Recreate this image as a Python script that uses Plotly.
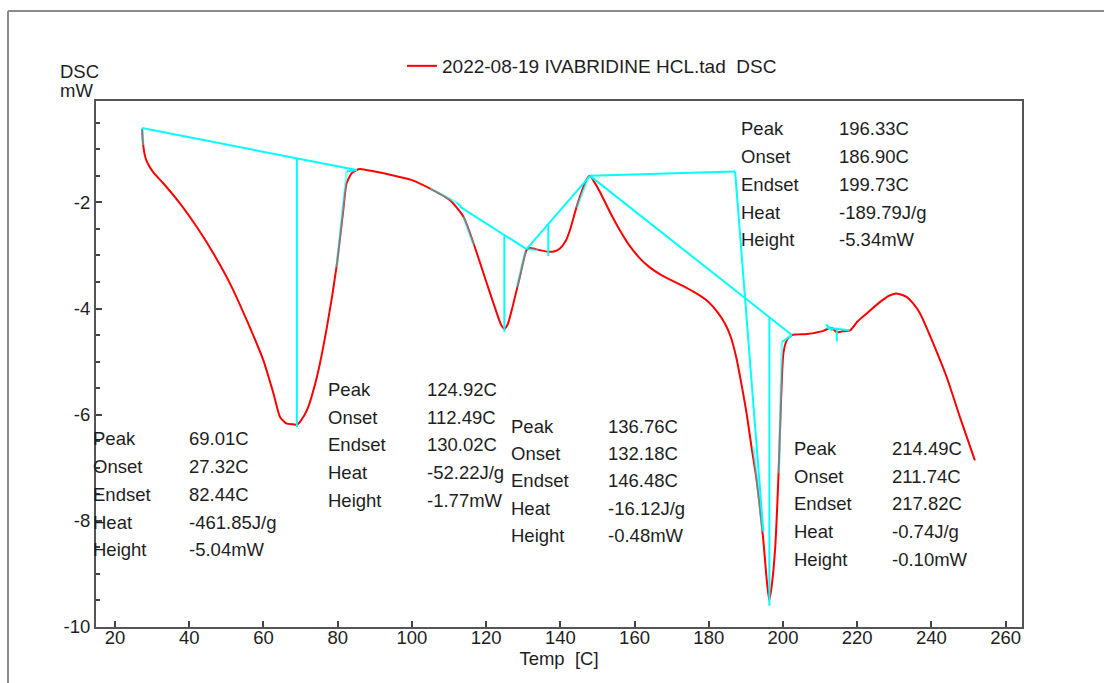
import plotly.graph_objects as go

# ---------------- data ----------------
TEMP = [27.3, 27.5, 28.0, 28.5, 29.5, 30.5, 33.0, 37.5, 42.0, 46.5, 51.0, 55.5, 60.0, 62.7, 64.5,
        66.3, 68.0, 69.0, 70.0, 71.7, 74.4, 77.1, 79.7, 81.5, 82.4, 83.8, 85.1, 86.0, 90.0, 94.1,
        100.0, 104.9, 110.3, 113.9, 116.6, 120.2, 122.9, 124.0, 124.9, 125.8, 126.9, 129.1, 130.9,
        131.8, 132.7, 134.5, 136.7, 138.5, 139.9, 141.5, 142.6, 144.4, 146.2, 147.2, 148.0, 149.0,
        150.5, 153.5, 156.0, 158.5, 161.5, 164.0, 167.0, 170.0, 174.0, 177.0, 180.0, 182.5, 184.5,
        186.0, 187.5, 189.0, 190.2, 191.5, 192.9, 194.7, 195.6, 196.3, 197.0, 197.9, 198.8, 199.5,
        200.1, 201.0, 202.4, 206.4, 210.9, 212.7, 213.5, 214.5, 216.0, 218.1, 220.0, 222.6, 226.1,
        228.5, 230.2, 231.5, 233.3, 235.0, 236.9, 240.5, 244.1, 247.7, 251.7]
DSC = [-0.62, -0.85, -1.10, -1.22, -1.35, -1.45, -1.64, -2.02, -2.46, -2.96, -3.53, -4.22, -4.98,
       -5.60, -6.05, -6.17, -6.18, -6.19, -6.12, -5.92, -5.29, -4.35, -3.21, -2.15, -1.64, -1.45,
       -1.39, -1.37, -1.42, -1.48, -1.58, -1.74, -1.96, -2.27, -2.77, -3.53, -4.09, -4.30, -4.38,
       -4.30, -4.03, -3.40, -2.90, -2.86, -2.87, -2.90, -2.93, -2.92, -2.87, -2.72, -2.52, -2.08,
       -1.71, -1.55, -1.50, -1.60, -1.78, -2.20, -2.52, -2.80, -3.06, -3.22, -3.36, -3.47, -3.61,
       -3.73, -3.88, -4.08, -4.30, -4.55, -4.95, -5.50, -5.98, -6.60, -7.24, -8.37, -9.10, -9.50,
       -9.20, -8.50, -7.11, -5.67, -4.85, -4.60, -4.50, -4.48, -4.42, -4.36, -4.38, -4.45, -4.43,
       -4.41, -4.25, -4.09, -3.88, -3.76, -3.72, -3.73, -3.78, -3.90, -4.09, -4.66, -5.29, -6.05,
       -6.86]

# integration baselines / peak markers (x0, y0, x1, y1)
BASELINES = [
    (27.28, -0.60, 85.1, -1.39), (69.01, -1.17, 69.01, -6.23), (82.44, -1.42, 85.1, -1.39),
    (112.9, -2.08, 130.9, -2.88), (124.92, -2.61, 124.92, -4.44), (112.0, -2.00, 113.3, -2.08),
    (130.9, -2.88, 148.0, -1.50), (136.76, -2.41, 136.76, -3.01),
    (148.0, -1.50, 187.1, -1.42), (187.1, -1.42, 194.7, -8.20),
    (148.0, -1.50, 202.4, -4.50), (196.33, -4.17, 196.33, -9.60), (199.7, -4.63, 202.4, -4.50),
    (211.6, -4.30, 213.3, -4.42), (211.74, -4.36, 217.82, -4.41), (214.49, -4.36, 214.49, -4.62),
]
# tangent segments lying on the curve (x0, y0, x1, y1)
TANGENTS = [
    (27.3, -0.60, 27.6, -0.92), (82.44, -1.42, 79.7, -3.22),
    (104.9, -1.74, 112.0, -2.00), (113.9, -2.27, 116.6, -2.80), (128.3, -3.60, 130.6, -2.92),
    (131.0, -2.88, 134.0, -2.90), (144.4, -2.10, 147.5, -1.55),
    (192.0, -6.60, 194.5, -8.18), (199.7, -4.63, 198.9, -7.10),
]

LABELS = ["Peak", "Onset", "Endset", "Heat", "Height"]
PEAK1_VALUES = ["69.01C", "27.32C", "82.44C", "-461.85J/g", "-5.04mW"]
PEAK2_VALUES = ["124.92C", "112.49C", "130.02C", "-52.22J/g", "-1.77mW"]
PEAK3_VALUES = ["136.76C", "132.18C", "146.48C", "-16.12J/g", "-0.48mW"]
PEAK4_VALUES = ["196.33C", "186.90C", "199.73C", "-189.79J/g", "-5.34mW"]
PEAK5_VALUES = ["214.49C", "211.74C", "217.82C", "-0.74J/g", "-0.10mW"]

X_TICKS = [20, 40, 60, 80, 100, 120, 140, 160, 180, 200, 220, 240, 260]
Y_TICKS = [-10, -8, -6, -4, -2]
Y_TICK_TEXT = ["-10", "-8", "-6", "-4", "-2"]
SERIES_NAME = "2022-08-19 IVABRIDINE HCL.tad  DSC"

# ---------------- layout constants ----------------
W, H = 1104, 683
L, R, T, B = 96, 82, 101, 56
PW, PH = W - L - R, H - T - B
FONT = "Liberation Sans, Arial, sans-serif"
TXT = "#1e1e1e"
FS = 18.5


def px(x):
    return (x - L) / PW


def py(y):
    return (H - B - y) / PH


def seg_xy(segs):
    xs, ys = [], []
    for x0, y0, x1, y1 in segs:
        xs += [x0, x1, None]
        ys += [y0, y1, None]
    return xs, ys


fig = go.Figure()
fig.add_trace(go.Scatter(x=TEMP, y=DSC, mode="lines", name=SERIES_NAME,
                         line=dict(color="#ff0000", width=2, shape="spline", smoothing=0.6)))
bx, by = seg_xy(BASELINES)
fig.add_trace(go.Scatter(x=bx, y=by, mode="lines", showlegend=False,
                         line=dict(color="#00ffff", width=2)))
tx, ty = seg_xy(TANGENTS)
fig.add_trace(go.Scatter(x=tx, y=ty, mode="lines", showlegend=False, opacity=0.5,
                         line=dict(color="#00ffff", width=2.5)))

# result blocks: (values, label_x_px, value_x_px, first_row_y_px, row_step_px)
BLOCKS = [
    (PEAK1_VALUES, 91, 187, 438.3, 27.9),
    (PEAK2_VALUES, 326, 425, 389.3, 27.7),
    (PEAK3_VALUES, 509, 605.5, 426.0, 27.4),
    (PEAK4_VALUES, 738.5, 837, 128.3, 27.9),
    (PEAK5_VALUES, 792, 889.5, 448.3, 27.75),
]
ann = []
for vals, lx, vx, y0, dy in BLOCKS:
    for i, (lab, val) in enumerate(zip(LABELS, vals)):
        yy = y0 + i * dy
        for xx, t in ((lx, lab), (vx, val)):
            ann.append(dict(x=px(xx), y=py(yy), xref="paper", yref="paper", text=t,
                            showarrow=False, xanchor="left", yanchor="middle",
                            font=dict(family=FONT, size=FS, color=TXT)))
ann.append(dict(x=px(58), y=py(72), xref="paper", yref="paper", text="DSC", showarrow=False,
                xanchor="left", yanchor="middle", font=dict(family=FONT, size=FS, color=TXT)))
ann.append(dict(x=px(58), y=py(91), xref="paper", yref="paper", text="mW", showarrow=False,
                xanchor="left", yanchor="middle", font=dict(family=FONT, size=FS, color=TXT)))

fig.update_layout(
    width=W, height=H,
    margin=dict(l=L, r=R, t=T, b=B),
    paper_bgcolor="white", plot_bgcolor="white",
    font=dict(family=FONT, size=FS, color=TXT),
    showlegend=True,
    legend=dict(orientation="h", x=px(402), xanchor="left", y=py(66), yanchor="middle",
                font=dict(family=FONT, size=19, color=TXT), bgcolor="rgba(0,0,0,0)"),
    annotations=ann,
    shapes=[
        dict(type="line", xref="paper", yref="paper", x0=px(8), x1=px(8), y0=py(11), y1=py(700),
             line=dict(color="#8a8a8a", width=2)),
        dict(type="line", xref="paper", yref="paper", x0=px(8), x1=px(1120), y0=py(11), y1=py(11),
             line=dict(color="#8a8a8a", width=2)),
    ],
)
fig.update_xaxes(range=[14.88, 264.4], tickvals=X_TICKS, ticks="inside", ticklen=6,
                 tickwidth=1.5, tickcolor="#444", showgrid=False, zeroline=False,
                 showline=True, linecolor="#555", linewidth=2, mirror=True,
                 ticklabelstandoff=-7,
                 tickfont=dict(family=FONT, size=FS, color=TXT),
                 title=dict(text="Temp  [C]", font=dict(family=FONT, size=FS, color=TXT), standoff=1))
fig.update_yaxes(range=[-10, -0.09], tickvals=Y_TICKS, ticktext=Y_TICK_TEXT, ticks="inside", ticklen=6,
                 tickwidth=1.5, tickcolor="#444", showgrid=False, zeroline=False,
                 showline=True, linewidth=2, mirror=True,
                 linecolor="#555", ticklabelstandoff=0,
                 minor=dict(dtick=0.5, tick0=0, ticks="inside", ticklen=4, tickcolor="#444"),
                 tickfont=dict(family=FONT, size=FS, color=TXT))

fig.write_html("out.html")
